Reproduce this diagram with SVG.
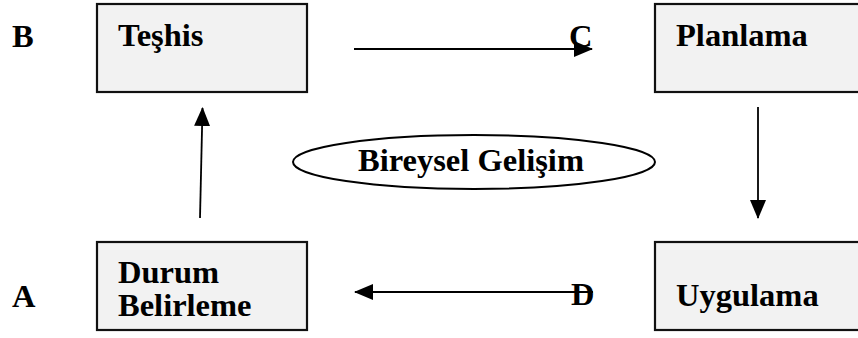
<svg xmlns="http://www.w3.org/2000/svg" width="858" height="338" viewBox="0 0 858 338">
  <style>
    .box { fill: #f2f2f2; stroke: #111; stroke-width: 2.2; }
    .lbl { font-family: "Liberation Serif", "Times New Roman", serif; font-weight: bold; font-size: 32.5px; fill: #000; }
    .edge { fill: none; stroke: #000; stroke-width: 1.8; marker-end: url(#head); }
  </style>
  <defs>
    <marker id="head" markerUnits="userSpaceOnUse" markerWidth="19" markerHeight="17" refX="18" refY="8.5" orient="auto">
      <path d="M0,0.5 L19,8.5 L0,16.5 z" fill="#000"/>
    </marker>
  </defs>

  <!-- stage letters -->
  <text class="lbl" x="12" y="47">B</text>
  <text class="lbl" x="12" y="307">A</text>

  <!-- stages -->
  <g id="teshis">
    <rect class="box" x="97" y="4" width="210" height="88"/>
    <text class="lbl" x="118" y="46">Teşhis</text>
  </g>
  <g id="planlama">
    <rect class="box" x="655" y="4" width="210" height="88"/>
    <text class="lbl" x="676" y="46">Planlama</text>
  </g>
  <g id="durum-belirleme">
    <rect class="box" x="97" y="242" width="210" height="88"/>
    <text class="lbl" x="118" y="283">Durum</text>
    <text class="lbl" x="118" y="316">Belirleme</text>
  </g>
  <g id="uygulama">
    <rect class="box" x="655" y="242" width="210" height="88"/>
    <text class="lbl" x="676" y="306">Uygulama</text>
  </g>

  <!-- centre -->
  <g id="bireysel-gelisim">
    <ellipse cx="474" cy="162" rx="181" ry="27" fill="#fff" stroke="#000" stroke-width="2"/>
    <text class="lbl" x="358" y="171">Bireysel Gelişim</text>
  </g>

  <!-- letters sitting on the arrows -->
  <text class="lbl" x="569" y="47">C</text>
  <text class="lbl" x="571" y="305">D</text>

  <!-- cycle arrows -->
  <g id="connectors">
    <line class="edge" x1="354" y1="49" x2="592" y2="49"/>
    <line class="edge" x1="758" y1="107" x2="758" y2="218"/>
    <line class="edge" x1="593" y1="292" x2="355" y2="292"/>
    <line class="edge" x1="200" y1="218" x2="202.5" y2="108"/>
  </g>
</svg>
